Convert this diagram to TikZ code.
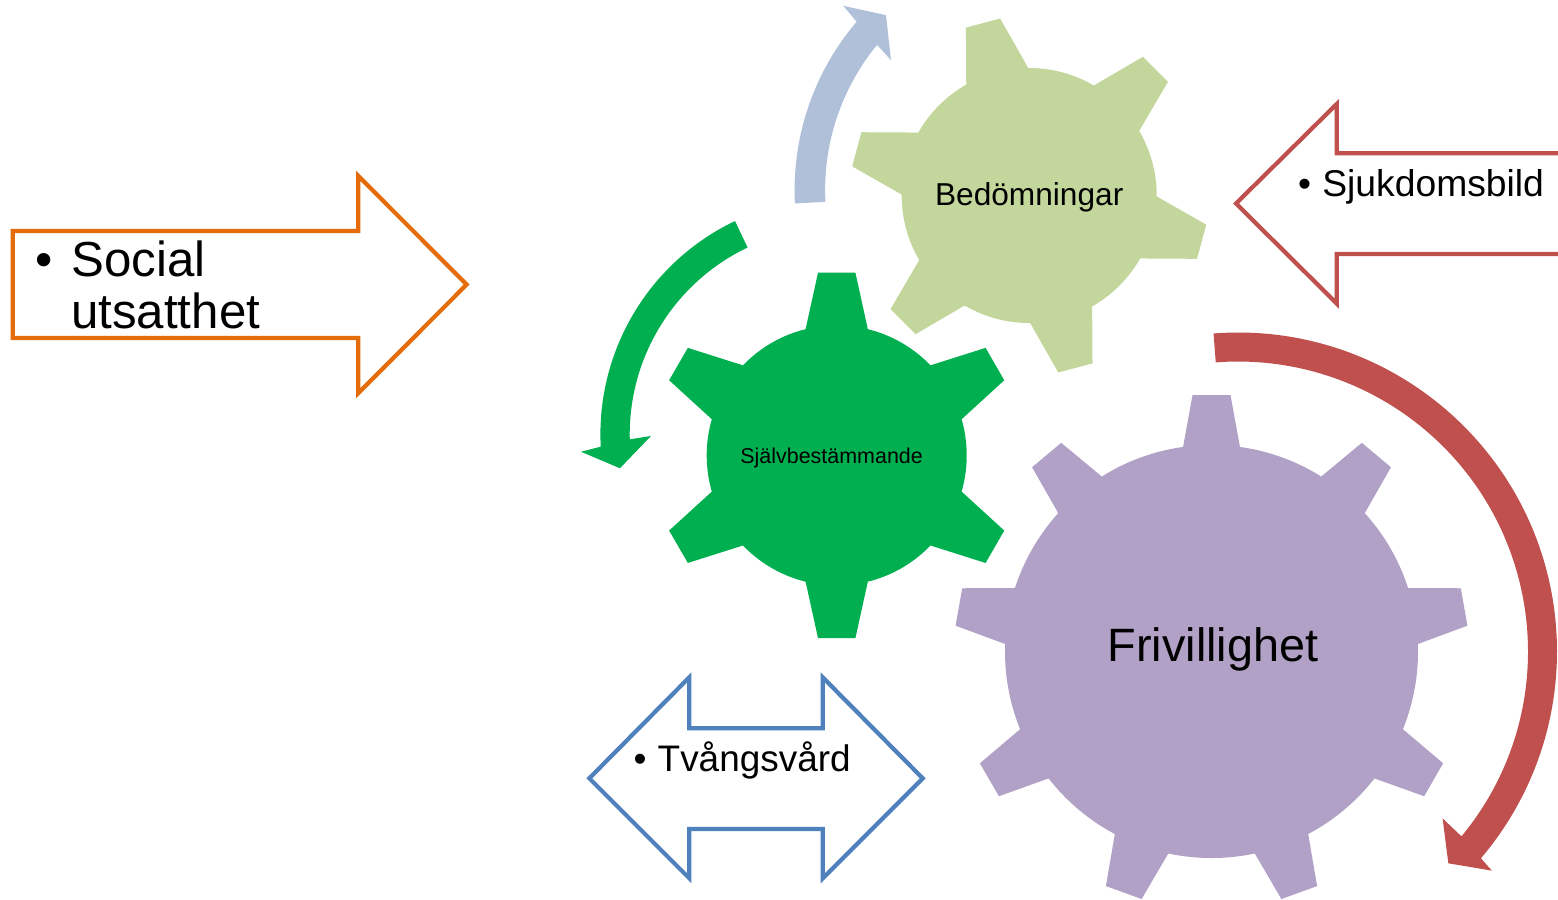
\documentclass[tikz,border=0pt]{standalone}
\usepackage{fontspec}
\setmainfont{Liberation Sans}

\definecolor{frivpurple}{HTML}{B2A1C7}
\definecolor{bedolive}{HTML}{C3D69B}
\definecolor{sjalvgreen}{HTML}{00B050}
\definecolor{sjukred}{HTML}{C0504D}
\definecolor{tvangblue}{HTML}{4F81BD}
\definecolor{socialorange}{HTML}{E46C0A}
\definecolor{cyclegrey}{HTML}{B0C0D8}

\tikzstyle{blockarrow} = [line width=1.2pt, 
fill=white, 
line join=miter]
\tikzstyle{geartext} = [inner sep=0pt, 
anchor=base, 
text=black]
\tikzstyle{itemtext} = [inner sep=0pt, 
anchor=base west]
\tikzstyle{itembullet} = [inner sep=0pt, 
anchor=base]

\begin{document}
\begin{tikzpicture}[x=0.01cm, y=-0.01cm]
    \useasboundingbox (0,0) rectangle (1558,899);

    % gears
    \begin{scope}[shift={(1211.5,651.5)}]
        \fill[frivpurple] (0,0) circle[radius=206.5];
        \foreach \a in {90,130,...,410}
            \fill[frivpurple, rotate=\a] (180,-32.9) -- (256.5,-19) -- (256.5,19) -- (180,32.9) -- cycle;
    \end{scope}
    \begin{scope}[shift={(836.7,455.4)}]
        \fill[sjalvgreen] (0,0) circle[radius=130];
        \foreach \a in {30,90,...,330}
            \fill[sjalvgreen, rotate=\a] (110,-34.7) -- (182.7,-18.7) -- (182.7,18.7) -- (110,34.7) -- cycle;
    \end{scope}
    \begin{scope}[shift={(1029.2,195.5)}]
        \fill[bedolive] (0,0) circle[radius=127.5];
        \foreach \a in {-15,45,...,285}
            \fill[bedolive, rotate=\a] (110,-35.6) -- (178.5,-17.7) -- (178.5,17.7) -- (110,35.6) -- cycle;
    \end{scope}

    % circular arrows
    \begin{scope}[shift={(836.7,434.3)}, yscale=-1]
        \fill[sjalvgreen] (115.5:236.3) arc[start angle=115.5, end angle=183, radius=236.3]
            -- (183.9:256.3) -- (188.9:219.4) -- (180.5:185.7)
            -- (181.4:207) arc[start angle=181.4, end angle=115.5, radius=207] -- cycle;
    \end{scope}
    \begin{scope}[shift={(1053.6,189.9)}, yscale=-1]
        \fill[cyclegrey] (183:259) arc[start angle=183, end angle=139.5, radius=259]
            -- (138.8:279.4) -- (133.8:242.2) -- (141.4:208.1)
            -- (140.6:228.5) arc[start angle=140.6, end angle=183, radius=228.5] -- cycle;
    \end{scope}
    \begin{scope}[shift={(1238,651.5)}, yscale=-1]
        \fill[sjukred] (94.4:319) arc[start angle=94.4, end angle=-40.4, radius=319]
            -- (-40.8:335.3) -- (-45.2:298.5) -- (-39.2:264)
            -- (-39.6:290) arc[start angle=-39.6, end angle=94.4, radius=290] -- cycle;
    \end{scope}

    % block arrows
    \draw[blockarrow, draw=socialorange] (12.7,231) -- (358.3,231) -- (358.3,176) -- (466.7,284.5)
        -- (358.3,393) -- (358.3,338) -- (12.7,338) -- cycle;
    \draw[blockarrow, draw=sjukred] (1575,153.3) -- (1336.7,153.3) -- (1336.7,104) -- (1236,203.5)
        -- (1336.7,303.5) -- (1336.7,254) -- (1575,254);
    \draw[blockarrow, draw=tvangblue] (589.3,778.3) -- (689.3,677.3) -- (689.3,728.3) -- (822.7,728.3)
        -- (822.7,677.3) -- (922.7,778.3) -- (822.7,878.3) -- (822.7,829) -- (689.3,829)
        -- (689.3,878.3) -- cycle;

    % texts
    \node (frivillighet) [geartext, font=\fontsize{13.3}{16}\selectfont] at (1213,661.6) {Frivillighet};
    \node (bedomningar) [geartext, font=\fontsize{9}{11}\selectfont] at (1029.2,205) {Bedömningar};
    \node (sjalvbest) [geartext, font=\fontsize{6.1}{7.5}\selectfont] at (831.6,463.3) {Självbestämmande};

    \node (socialdot) [itembullet, font=\fontsize{14}{16}\selectfont] at (43.7,276) {•};
    \node (social) [itemtext, font=\fontsize{14}{16}\selectfont] at (71,276) {Social};
    \node (utsatt) [itemtext, font=\fontsize{14}{16}\selectfont] at (70.5,328.3) {utsatthet};

    \node (sjukdot) [itembullet, font=\fontsize{10.55}{12}\selectfont] at (1304.5,196.7) {•};
    \node (sjukdom) [itemtext, font=\fontsize{10.6}{12}\selectfont] at (1321.6,196.7) {Sjukdomsbild};

    \node (tvangdot) [itembullet, font=\fontsize{10.5}{12}\selectfont] at (640,771.7) {•};
    \node (tvang) [itemtext, font=\fontsize{10.5}{12}\selectfont] at (657,771.7) {Tvångsvård};
\end{tikzpicture}
\end{document}
